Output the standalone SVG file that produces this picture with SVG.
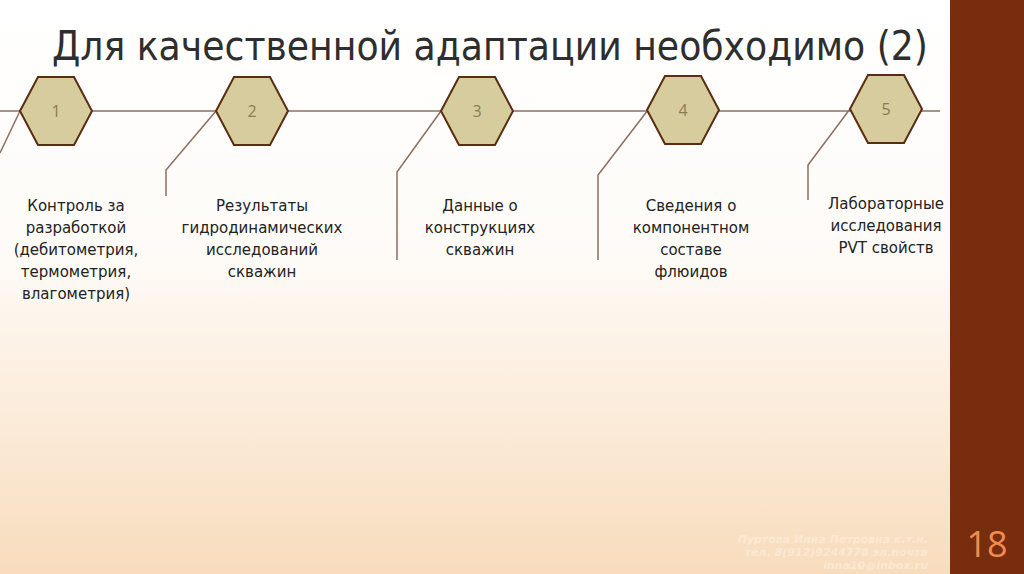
<svg xmlns="http://www.w3.org/2000/svg" width="1024" height="574" viewBox="0 0 1024 574">
<defs>
<linearGradient id="bg" x1="0" y1="0" x2="0" y2="1">
<stop offset="0" stop-color="#ffffff"/><stop offset="0.45" stop-color="#fefbf7"/><stop offset="1" stop-color="#f8dcbc"/>
</linearGradient>
<polygon id="hex" points="-36,0 -18,-34 18,-34 36,0 18,34 -18,34"/>
</defs>
<style>
.hx{fill:#d6cc9e;stroke:#5a2d12;stroke-width:2}
.num{font-family:"Open Sans","DejaVu Sans",sans-serif;font-size:16px;fill:#8a7d55;text-anchor:middle}
.lbl{font-family:"DejaVu Sans",sans-serif;font-size:15px;fill:#222;text-anchor:middle}
.ln{stroke:#8c6e60;stroke-width:1.5;fill:none}
.ft{font-family:"DejaVu Sans",sans-serif;font-style:italic;font-weight:bold;font-size:11px;fill:#fbe8d4;text-anchor:end}
</style>
<rect width="1024" height="574" fill="url(#bg)"/>
<rect x="950" y="0" width="74" height="574" fill="#792d0f"/>
<text x="52" y="60" font-family="'DejaVu Sans Condensed','DejaVu Sans',sans-serif" font-size="40" fill="#2e2e2e" textLength="876" lengthAdjust="spacingAndGlyphs">Для качественной адаптации необходимо (2)</text>
<g id="connectors">
<line class="ln" x1="0" y1="111" x2="940" y2="111"/>
<polyline class="ln" points="20,111 0,153"/>
<polyline class="ln" points="216,111 166,170 166,196"/>
<polyline class="ln" points="441,111 397,172 397,260"/>
<polyline class="ln" points="648,110 598,175 598,260"/>
<polyline class="ln" points="850,109 808,165 808,200"/>
</g>
<g id="n1"><use href="#hex" class="hx" x="56" y="111"/><text class="num" x="56" y="117">1</text>
<text class="lbl" x="76" y="211">Контроль за</text><text class="lbl" x="76" y="233">разработкой</text><text class="lbl" x="76" y="255">(дебитометрия,</text><text class="lbl" x="76" y="277">термометрия,</text><text class="lbl" x="76" y="299">влагометрия)</text></g>
<g id="n2"><use href="#hex" class="hx" x="252" y="111"/><text class="num" x="252" y="117">2</text>
<text class="lbl" x="262" y="211">Результаты</text><text class="lbl" x="262" y="233">гидродинамических</text><text class="lbl" x="262" y="255">исследований</text><text class="lbl" x="262" y="277">скважин</text></g>
<g id="n3"><use href="#hex" class="hx" x="477" y="111"/><text class="num" x="477" y="117">3</text>
<text class="lbl" x="480" y="211">Данные о</text><text class="lbl" x="480" y="233">конструкциях</text><text class="lbl" x="480" y="255">скважин</text></g>
<g id="n4"><use href="#hex" class="hx" x="683" y="110"/><text class="num" x="683" y="116">4</text>
<text class="lbl" x="691" y="211">Сведения о</text><text class="lbl" x="691" y="233">компонентном</text><text class="lbl" x="691" y="255">составе</text><text class="lbl" x="691" y="277">флюидов</text></g>
<g id="n5"><use href="#hex" class="hx" x="886" y="109"/><text class="num" x="886" y="115">5</text>
<text class="lbl" x="886" y="209">Лабораторные</text><text class="lbl" x="886" y="231">исследования</text><text class="lbl" x="886" y="253">PVT свойств</text></g>
<text class="ft" x="928" y="543">Пуртова Инна Петровна к.т.н.</text>
<text class="ft" x="928" y="556">тел. 8(912)9244778 эл.почта</text>
<text class="ft" x="928" y="569">inna10@inbox.ru</text>
<text x="987" y="557" font-family="'Open Sans','DejaVu Sans',sans-serif" font-size="36" fill="#f08c50" text-anchor="middle">18</text>
</svg>
